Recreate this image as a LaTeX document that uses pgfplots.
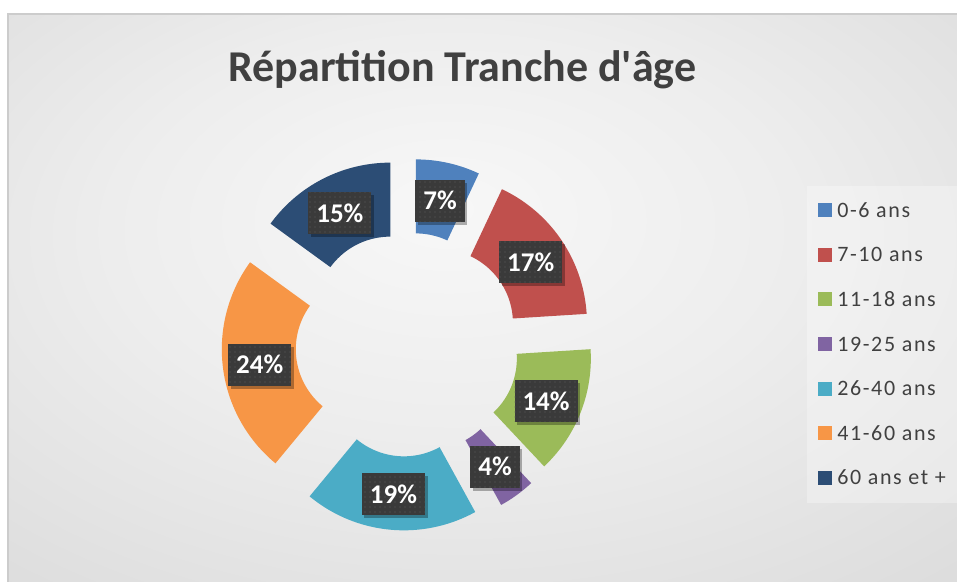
\documentclass[border=0pt]{standalone}
\usepackage{fontspec}
\setmainfont{Carlito}
\newfontfamily\titlefont{Carlito}[Ligatures=TeXOff]
\newfontfamily\legfont{Carlito}[LetterSpace=7.5]
\usepackage{pgfplots}
\pgfplotsset{compat=1.18}
\usetikzlibrary{shadows,patterns.meta}
\definecolor{c1}{HTML}{4F81BD}
\definecolor{c2}{HTML}{C0504D}
\definecolor{c3}{HTML}{9BBB59}
\definecolor{c4}{HTML}{8064A2}
\definecolor{c5}{HTML}{4BACC6}
\definecolor{c6}{HTML}{F79646}
\definecolor{c7}{HTML}{2C4D75}
\definecolor{lblbg}{HTML}{3A3A3A}
\definecolor{dotc}{HTML}{606060}
\definecolor{txt}{HTML}{404040}
\definecolor{legtxt}{HTML}{404040}
\pgfdeclareradialshading{bgshade}{\pgfpoint{-2bp}{8bp}}{color(0bp)=(white!97!black); color(18bp)=(white!93!black); color(40bp)=(white!86!black); color(70bp)=(white!80!black)}
\def\Cx{407.5}\def\Cy{237.5}\def\Ro{148}\def\Ri{74}\def\Dd{38}\def\Rl{149}
% #1 colour, #2 cumulative start (%), #3 value (%), #4 legend text
\newcommand{\slice}[4]{%
\addplot[fill=#1, draw=none, domain=0:2, samples=201, variable=\t]
 ({\Cx + \Dd*cos(90-3.6*(#2+#3/2)) + ifthenelse(\t<1.005,\Ro,\Ri)*cos(90-3.6*(#2 + #3*ifthenelse(\t<1.005,min(\t,1),1-max(0,(\t-1.01)/0.99))))},
  {\Cy + \Dd*sin(90-3.6*(#2+#3/2)) + ifthenelse(\t<1.005,\Ro,\Ri)*sin(90-3.6*(#2 + #3*ifthenelse(\t<1.005,min(\t,1),1-max(0,(\t-1.01)/0.99))))});
\addlegendentry{#4}
}
\newcommand{\plabel}[2]{%
\node[lbl] at (axis cs:{\Cx+\Rl*cos(90-3.6*(#1+#2/2))},{\Cy-1.5+\Rl*sin(90-3.6*(#1+#2/2))}) {#2\%};
}
\tikzset{lbl/.style={fill=lblbg, text=white, font=\bfseries\fontsize{27bp}{32bp}\selectfont,
  minimum height=42bp, inner xsep=8bp, inner ysep=0bp,
  drop shadow={shadow xshift=2.5bp, shadow yshift=-3bp, opacity=0.3, fill=black},
  postaction={pattern={Dots[distance=5bp, radius=0.6bp]}, pattern color=dotc}}}
\begin{document}
\begin{tikzpicture}
\begin{axis}[name=ax, at={(0,0)}, anchor=south west,
  width=957bp, height=582bp, scale only axis,
  xmin=0, xmax=957, ymin=0, ymax=582, hide axis, clip=false,
  legend style={at={(0.8548,0.6529)}, anchor=north west, draw=none, fill=none,
    font=\legfont\fontsize{22bp}{26bp}\selectfont, text=legtxt,
    row sep=25.6bp, inner sep=0pt,
    nodes={inner sep=0pt, text height=15bp, text depth=4bp, anchor=base west},
    /tikz/every odd column/.append style={column sep=5bp}},
  legend cell align=left,
  legend image code/.code={\fill[#1] (0bp,0bp) rectangle (14bp,14bp);},
]
\fill[white] (axis cs:0,0) rectangle (axis cs:957,582);
\shade[shading=bgshade] (axis cs:8,0) rectangle (axis cs:957,568);
\draw[gray!40, line width=1.2bp] (axis cs:8,0) -- (axis cs:8,568) -- (axis cs:957,568);
\fill[white, opacity=0.3] (axis cs:807,79) rectangle (axis cs:957,396);
\node[anchor=base, font=\titlefont\bfseries\fontsize{44bp}{50bp}\selectfont, text=txt] at (axis cs:462.5,500) {Répartition Tranche d'âge};
\slice{c1}{0}{7}{0-6 ans}
\slice{c2}{7}{17}{7-10 ans}
\slice{c3}{24}{14}{11-18 ans}
\slice{c4}{38}{4}{19-25 ans}
\slice{c5}{42}{19}{26-40 ans}
\slice{c6}{61}{24}{41-60 ans}
\slice{c7}{85}{15}{60 ans et +}
\plabel{0}{7}
\plabel{7}{17}
\plabel{24}{14}
\plabel{38}{4}
\plabel{42}{19}
\plabel{61}{24}
\plabel{85}{15}
\end{axis}
\pgfresetboundingbox
\path[use as bounding box] (ax.south west) rectangle (ax.north east);
\end{tikzpicture}
\end{document}
